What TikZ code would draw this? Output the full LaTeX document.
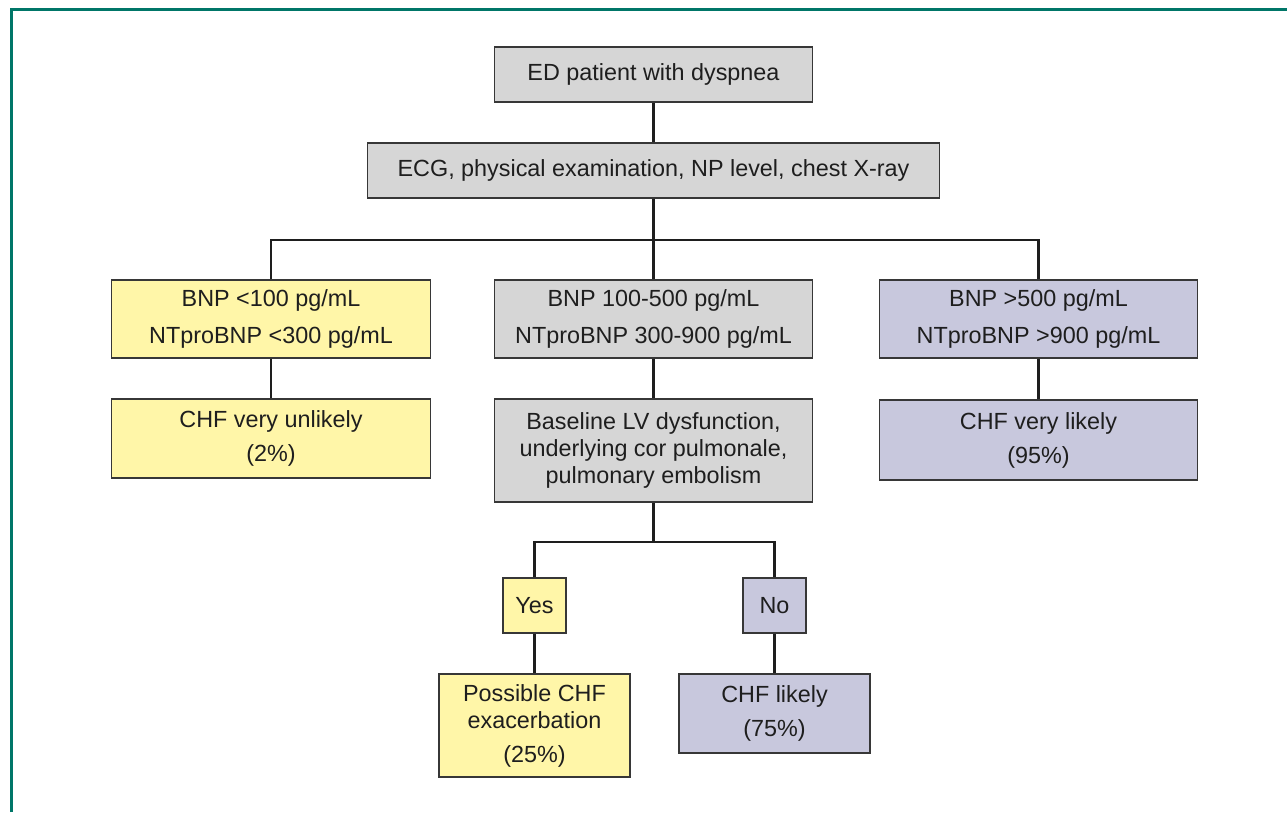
\documentclass[tikz,border=0pt]{standalone}
\definecolor{FrameTeal}{RGB}{0,118,104}
\definecolor{DxYellow}{RGB}{255,246,168}
\definecolor{DxGray}{RGB}{214,214,214}
\definecolor{DxPurple}{RGB}{200,200,221}
\definecolor{DxEdge}{RGB}{55,55,55}
\definecolor{DxInk}{RGB}{30,30,30}
\usepackage{fontspec}
\setmainfont{Liberation Sans}
\usepackage{tikz}
\usetikzlibrary{positioning}

\begin{document}
\begin{tikzpicture}[
  box/.style={rectangle, draw=DxEdge, line width=0.8pt, fill=DxGray, minimum width=6.37cm, minimum height=1.1cm, inner sep=0pt, font=\fontsize{13.3}{15.4}\selectfont, text=DxInk, align=center},
  ybox/.style={box, fill=DxYellow},
  pbox/.style={box, fill=DxPurple},
  link/.style={line width=1.5pt, DxInk}
]
\useasboundingbox (0,0) rectangle (25.74,16.24);

% Frame
\draw[FrameTeal, line width=1.8pt] (0.23,0) -- (0.23,16.05) -- (25.74,16.05);

\node[box] (patient) at (13.07,14.75) {ED patient with dyspnea};
\node[box, minimum width=11.45cm] (workup) at (13.07,12.83) {ECG, physical examination, NP level, chest X-ray};

\node[ybox, minimum height=1.56cm] (lowNP) at (5.42,9.86) {BNP <100 pg/mL\\[5.6pt]NTproBNP <300 pg/mL};
\node[box, minimum height=1.56cm] (midNP) at (13.07,9.86) {BNP 100-500 pg/mL\\[5.6pt]NTproBNP 300-900 pg/mL};
\node[pbox, minimum height=1.56cm] (highNP) at (20.77,9.86) {BNP >500 pg/mL\\[5.6pt]NTproBNP >900 pg/mL};

\node[ybox, minimum height=1.58cm] (unlikely) at (5.42,7.47) {CHF very unlikely\\[3.9pt](2\%)};
\node[box, minimum height=2.06cm] (baseline) at (13.07,7.23) {Baseline LV dysfunction,\\underlying cor pulmonale,\\pulmonary embolism};
\node[pbox, minimum height=1.6cm] (verylikely) at (20.77,7.44) {CHF very likely\\[3.9pt](95\%)};

\node[ybox, minimum width=1.26cm] (yes) at (10.69,4.13) {Yes};
\node[pbox, minimum width=1.26cm] (no) at (15.49,4.13) {No};

\node[ybox, minimum width=3.82cm, minimum height=2.06cm] (possible) at (10.69,1.73) {Possible CHF\\exacerbation\\[3.9pt](25\%)};
\node[pbox, minimum width=3.82cm, minimum height=1.58cm] (likely) at (15.49,1.97) {CHF likely\\[3.9pt](75\%)};

% Branch points
\coordinate (split) at (13.07,11.44);
\coordinate (subsplit) at (13.07,5.40);

\draw[link] (patient) -- (workup);
\draw[link] (workup) -- (split);
\draw[link] (lowNP.north) |- (split) -| (highNP.north);
\draw[link] (split) -- (midNP);
\draw[link] (lowNP) -- (unlikely);
\draw[link] (midNP) -- (baseline);
\draw[link] (highNP) -- (verylikely);
\draw[link] (baseline) -- (subsplit);
\draw[link] (yes.north) |- (subsplit) -| (no.north);
\draw[link] (yes) -- (possible);
\draw[link] (no) -- (likely);

\end{tikzpicture}
\end{document}
